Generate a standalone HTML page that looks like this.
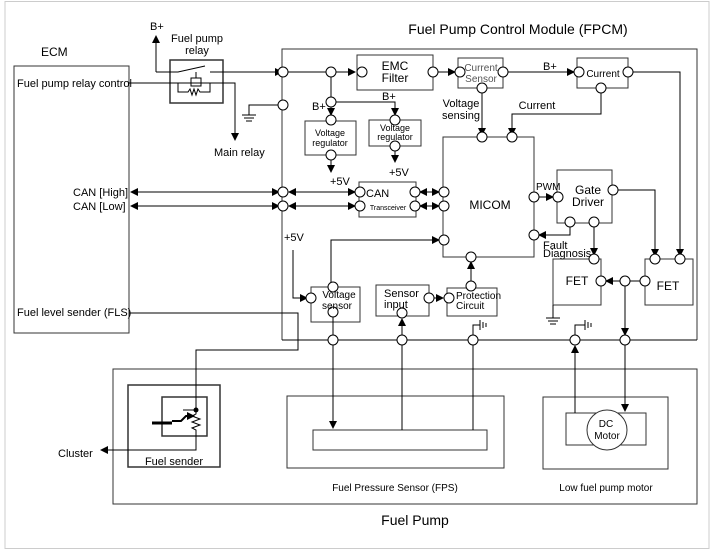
<!DOCTYPE html>
<html><head><meta charset="utf-8"><style>
html,body{margin:0;padding:0;background:#fff}
svg{display:block;font-family:"Liberation Sans",Arial,sans-serif}
</style></head><body>
<svg width="713" height="553" viewBox="0 0 713 553" xmlns="http://www.w3.org/2000/svg">
<defs>
<marker id="a" markerWidth="8" markerHeight="8" refX="7" refY="4" orient="auto" markerUnits="userSpaceOnUse"><path d="M0,0 L8,4 L0,8 z" fill="#000"/></marker>
<marker id="s" markerWidth="8" markerHeight="8" refX="1" refY="4" orient="auto" markerUnits="userSpaceOnUse"><path d="M8,0 L0,4 L8,8 z" fill="#000"/></marker>
</defs>
<rect x="5" y="1.5" width="704" height="547" fill="none" stroke="#ccc"/>
<g fill="none" stroke="#333" stroke-width="1">
<rect x="14" y="66" width="115" height="267"/>
<path d="M282,340 V49 H697 V340"/>
<rect x="113" y="369" width="584" height="135"/>
<rect x="128" y="385" width="92" height="82" stroke-width="1.5"/>
<rect x="162" y="397" width="45" height="39" stroke-width="1.5"/>
<rect x="287" y="396" width="217" height="72"/>
<rect x="313" y="430" width="174" height="20"/>
<rect x="543" y="397" width="125" height="72"/>
<rect x="566" y="413" width="80" height="32"/>
<circle cx="607" cy="430" r="20" fill="#fff"/>
<rect x="170" y="60" width="53" height="43" stroke-width="1.5"/>
<rect x="357" y="55" width="76" height="35"/>
<rect x="458" y="58" width="45" height="30"/>
<rect x="577" y="58" width="51" height="30"/>
<rect x="305" y="121" width="51" height="34"/>
<rect x="369" y="120" width="52" height="26"/>
<rect x="359" y="182" width="57" height="35"/>
<rect x="443" y="137" width="91" height="120"/>
<rect x="557" y="170" width="55" height="53"/>
<rect x="553" y="259" width="48" height="46"/>
<rect x="645" y="259" width="48" height="46"/>
<rect x="311" y="287" width="49" height="35"/>
<rect x="376" y="285" width="53" height="31"/>
<rect x="447" y="288" width="50" height="28"/>
</g>
<g fill="none" stroke="#000" stroke-width="1">
<path d="M156,72 V36" marker-end="url(#a)"/>
<path d="M156,72 H178 L205,66"/>
<path d="M210,72 H282" marker-end="url(#a)"/>
<path d="M129,83 H235 V140" marker-end="url(#a)"/>
<path d="M178,83 V92 H188 L190,89 L192,95 L194,89 L196,95 L198,89 L200,92 H210 V83"/>
<rect x="191" y="78" width="10" height="8"/>
<path d="M196,72 V78"/>
<path d="M283,105 H249 V115 M242,115 H256 M244,118 H254 M246,121 H252"/>
<path d="M288,72 H326"/>
<path d="M336,72 H355" marker-end="url(#a)"/>
<path d="M438,72 H455" marker-end="url(#a)"/>
<path d="M508,72 H574" marker-end="url(#a)"/>
<path d="M633,72 H680 V256" marker-end="url(#a)"/>
<path d="M601,93 V114 H512 V135" marker-end="url(#a)"/>
<path d="M482,93 V135" marker-end="url(#a)"/>
<path d="M331,77 V97"/>
<path d="M331,107 V115" marker-end="url(#a)"/>
<path d="M336,102 H395 V115" marker-end="url(#a)"/>
<path d="M331,160 V172" marker-end="url(#a)"/>
<path d="M395,151 V162" marker-end="url(#a)"/>
<path d="M131,192 H279" marker-start="url(#s)" marker-end="url(#a)"/>
<path d="M131,206 H279" marker-start="url(#s)" marker-end="url(#a)"/>
<path d="M289,192 H355" marker-start="url(#s)" marker-end="url(#a)"/>
<path d="M289,206 H355" marker-start="url(#s)" marker-end="url(#a)"/>
<path d="M420,192 H439" marker-start="url(#s)" marker-end="url(#a)"/>
<path d="M420,206 H439" marker-start="url(#s)" marker-end="url(#a)"/>
<path d="M331,282 V240 H439" marker-end="url(#a)"/>
<path d="M293,250 V298 H307" marker-end="url(#a)"/>
<path d="M539,197 H553" marker-end="url(#a)"/>
<path d="M618,190 H655 V256" marker-end="url(#a)"/>
<path d="M594,227 V255" marker-end="url(#a)"/>
<path d="M570,227 V235 H539" marker-end="url(#a)"/>
<path d="M620,281 H606" marker-end="url(#a)"/>
<path d="M630,281 H640"/>
<path d="M625,286 V335" marker-end="url(#a)"/>
<path d="M625,345 V411" marker-end="url(#a)"/>
<path d="M575,413 V346" marker-end="url(#a)"/>
<path d="M553,305 V318 M546,318 H560 M548,321 H558 M550,324 H556"/>
<path d="M434,298 H443" marker-end="url(#a)"/>
<path d="M471,283 V262" marker-end="url(#a)"/>
<path d="M282,340 H697"/>
<path d="M333,317 V335"/>
<path d="M333,345 V428" marker-end="url(#a)"/>
<path d="M402,430 V319" marker-end="url(#a)"/>
<path d="M473,345 V430"/>
<path d="M473,335 V325 H480 M480,320 V330 M483,322 V328 M486,323 V327"/>
<path d="M575,335 V325 H585 M585,320 V330 M588,322 V328 M591,323 V327"/>
<path d="M129,313 H298 V350 H196 V410"/>
<path d="M196,436 V450 H101" marker-end="url(#a)"/>
<path d="M183,410 H196 M196,410 V414 L192,416 L200,419 L192,422 L200,425 L192,428 L196,430 V436"/>
<path d="M172,421 H181 L186,416 H194" stroke-width="2" marker-end="url(#a)"/>
<path d="M152,423 H172" stroke-width="3"/>
</g>
<circle cx="196" cy="410" r="2.5" fill="#000"/>
<g fill="#fff" stroke="#000" stroke-width="1">
<circle cx="283" cy="72" r="5"/><circle cx="283" cy="105" r="5"/><circle cx="331" cy="72" r="5"/>
<circle cx="283" cy="192" r="5"/><circle cx="283" cy="206" r="5"/>
<circle cx="362" cy="72" r="5"/><circle cx="433" cy="72" r="5"/>
<circle cx="460" cy="72" r="5"/><circle cx="503" cy="72" r="5"/><circle cx="482" cy="88" r="5"/>
<circle cx="579" cy="72" r="5"/><circle cx="628" cy="72" r="5"/><circle cx="601" cy="88" r="5"/>
<circle cx="331" cy="102" r="5"/><circle cx="331" cy="120" r="5"/><circle cx="331" cy="155" r="5"/>
<circle cx="395" cy="120" r="5"/><circle cx="395" cy="146" r="5"/>
<circle cx="360" cy="192" r="5"/><circle cx="360" cy="206" r="5"/><circle cx="415" cy="192" r="5"/><circle cx="415" cy="206" r="5"/>
<circle cx="444" cy="192" r="5"/><circle cx="444" cy="206" r="5"/><circle cx="444" cy="240" r="5"/>
<circle cx="482" cy="137" r="5"/><circle cx="512" cy="137" r="5"/><circle cx="471" cy="257" r="5"/>
<circle cx="534" cy="197" r="5"/><circle cx="534" cy="235" r="5"/>
<circle cx="558" cy="197" r="5"/><circle cx="613" cy="190" r="5"/><circle cx="570" cy="222" r="5"/><circle cx="594" cy="222" r="5"/>
<circle cx="594" cy="259" r="5"/><circle cx="601" cy="281" r="5"/><circle cx="625" cy="281" r="5"/><circle cx="645" cy="281" r="5"/>
<circle cx="655" cy="259" r="5"/><circle cx="680" cy="259" r="5"/>
<circle cx="311" cy="298" r="5"/><circle cx="333" cy="287" r="5"/><circle cx="333" cy="312" r="5"/>
<circle cx="429" cy="298" r="5"/><circle cx="402" cy="313" r="5"/><circle cx="449" cy="298" r="5"/><circle cx="471" cy="286" r="5"/>
<circle cx="333" cy="340" r="5"/><circle cx="402" cy="340" r="5"/><circle cx="473" cy="340" r="5"/><circle cx="575" cy="340" r="5"/><circle cx="625" cy="340" r="5"/>
</g>
<g font-size="11" fill="#000">
<text x="518" y="34" font-size="14" text-anchor="middle">Fuel Pump Control Module (FPCM)</text>
<text x="41" y="56" font-size="12">ECM</text>
<text x="17" y="87">Fuel pump relay control</text>
<text x="150" y="30">B+</text>
<text x="197" y="42" text-anchor="middle">Fuel pump</text>
<text x="197" y="54" text-anchor="middle">relay</text>
<text x="214" y="156">Main relay</text>
<text x="73" y="196">CAN [High]</text>
<text x="73" y="210">CAN [Low]</text>
<text x="17" y="316">Fuel level sender (FLS)</text>
<text x="395" y="70" font-size="12" text-anchor="middle">EMC</text>
<text x="395" y="82" font-size="12" text-anchor="middle">Filter</text>
<text x="481" y="71" font-size="10" fill="#555" text-anchor="middle">Current</text>
<text x="481" y="82" font-size="10" fill="#555" text-anchor="middle">Sensor</text>
<text x="543" y="70">B+</text>
<text x="603" y="77" font-size="10" text-anchor="middle">Current</text>
<text x="461" y="107" text-anchor="middle">Voltage</text>
<text x="461" y="119" text-anchor="middle">sensing</text>
<text x="537" y="109" text-anchor="middle">Current</text>
<text x="312" y="110">B+</text>
<text x="382" y="100">B+</text>
<text x="330" y="136" font-size="9" text-anchor="middle">Voltage</text>
<text x="330" y="146" font-size="9" text-anchor="middle">regulator</text>
<text x="395" y="131" font-size="9" text-anchor="middle">Voltage</text>
<text x="395" y="140" font-size="9" text-anchor="middle">regulator</text>
<text x="330" y="185">+5V</text>
<text x="389" y="176">+5V</text>
<text x="366" y="197">CAN</text>
<text x="388" y="210" font-size="7" text-anchor="middle">Transceiver</text>
<text x="490" y="209" font-size="12" text-anchor="middle">MICOM</text>
<text x="536" y="190" font-size="10">PWM</text>
<text x="588" y="194" font-size="12" text-anchor="middle">Gate</text>
<text x="588" y="206" font-size="12" text-anchor="middle">Driver</text>
<text x="543" y="249">Fault</text>
<text x="543" y="257">Diagnosis</text>
<text x="577" y="285" font-size="12" text-anchor="middle">FET</text>
<text x="668" y="290" font-size="12" text-anchor="middle">FET</text>
<text x="284" y="241">+5V</text>
<text x="339" y="298" font-size="10" text-anchor="middle">Voltage</text>
<text x="337" y="309" font-size="10" text-anchor="middle">sensor</text>
<text x="384" y="297">Sensor</text>
<text x="384" y="308">input</text>
<text x="456" y="299" font-size="10">Protection</text>
<text x="456" y="309" font-size="10">Circuit</text>
<text x="58" y="457">Cluster</text>
<text x="174" y="465" text-anchor="middle">Fuel sender</text>
<text x="606" y="427" font-size="10" text-anchor="middle">DC</text>
<text x="607" y="439" font-size="10" text-anchor="middle">Motor</text>
<text x="395" y="491" font-size="10" text-anchor="middle">Fuel Pressure Sensor (FPS)</text>
<text x="606" y="491" font-size="10" text-anchor="middle">Low fuel pump motor</text>
<text x="415" y="525" font-size="14" text-anchor="middle">Fuel Pump</text>
</g>
</svg>
</body></html>
